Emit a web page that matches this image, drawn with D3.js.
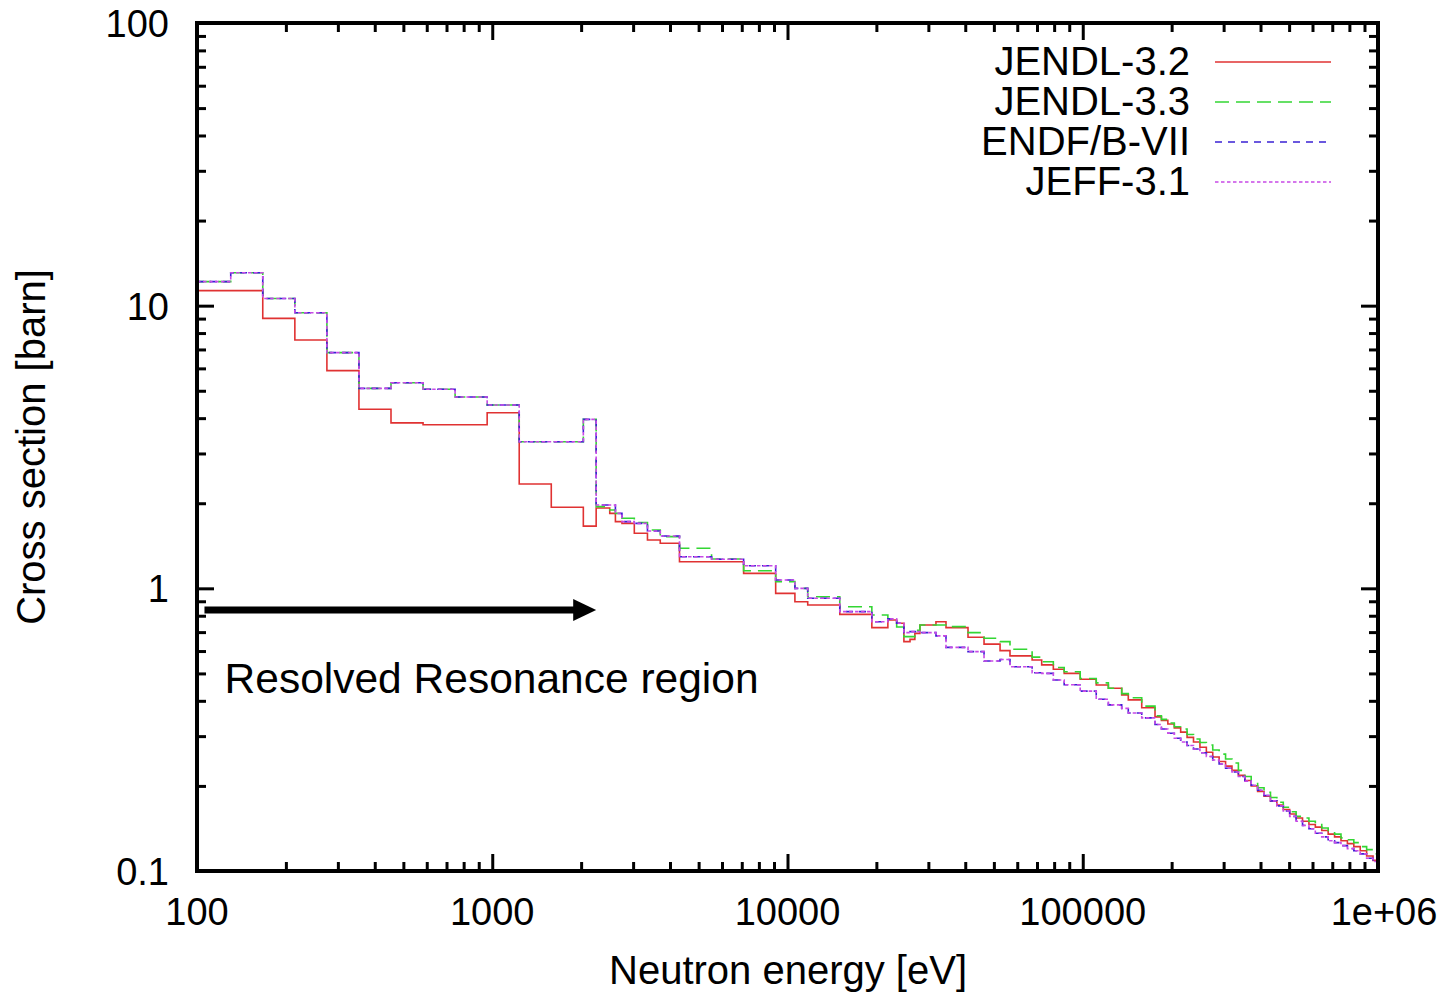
<!DOCTYPE html>
<html><head><meta charset="utf-8">
<script src="https://cdn.jsdelivr.net/npm/d3@7"></script>
<style>
html,body{margin:0;padding:0;background:#fff;}
svg{display:block;}
text{font-family:"Liberation Sans",Arial,Helvetica,sans-serif;fill:#000;}
</style></head><body>
<svg id="chart" width="1452" height="995"></svg>
<script>
// ---- data ----
const edges = [100, 130.1, 167.0, 214.5, 275.4, 353.6, 454.0, 583.0, 748.5, 961.1, 1234.1, 1584.6, 2034.7, 2248.7,
  2500, 2613, 2750, 3028, 3355, 3707, 4307, 5531, 7102, 9119, 10595, 11709, 15034, 19305,
  21875, 23430, 24788, 26000, 27000, 28088, 31828, 34420, 40868, 46309, 52475, 56700, 67379, 72600, 79500, 86517, 98037, 111090, 122100, 135500, 142640, 158400, 175700,
  184700, 194200, 204200, 214600, 225600, 237200, 249400, 262200, 275600, 289700, 304600, 320200, 336600, 353900, 372000, 391100, 411200, 432300, 454400, 477700,
  502200, 528000, 555100, 583500, 613400, 644900, 678000, 712700, 749300, 787700, 828100, 870600, 915200, 962100, 1000000];

const jendl32 = [11.3, 11.3, 9.02, 7.56, 5.89, 4.30, 3.85, 3.79, 3.79, 4.18, 2.34, 1.935, 1.66,
  1.923, 1.842, 1.722, 1.698, 1.566, 1.483, 1.443, 1.242, 1.242, 1.130, 0.960, 0.897, 0.873, 0.809,
  0.726, 0.773, 0.752, 0.648, 0.660, 0.693, 0.742, 0.762, 0.726, 0.671, 0.635, 0.602, 0.577, 0.558, 0.536, 0.517, 0.500, 0.477, 0.455, 0.443, 0.420, 0.403, 0.378,
  0.351, 0.341, 0.331, 0.321, 0.310, 0.297, 0.286, 0.274, 0.263, 0.253, 0.244, 0.235, 0.227, 0.218, 0.209, 0.200, 0.191, 0.184, 0.177, 0.171,
  0.165, 0.159, 0.154, 0.150, 0.146, 0.143, 0.139, 0.135, 0.132, 0.128, 0.125, 0.122, 0.118, 0.113, 0.109];

const jendl33 = [12.16, 13.08, 10.6, 9.44, 6.82, 5.10, 5.34, 5.06, 4.75, 4.45, 3.30, 3.30, 3.96,
  1.945, 1.893, 1.842, 1.770, 1.710, 1.608, 1.524, 1.386, 1.270, 1.154, 1.056, 1.000, 0.934, 0.861,
  0.805, 0.780, 0.730, 0.675, 0.675, 0.710, 0.742, 0.742, 0.732, 0.697, 0.666, 0.648, 0.609, 0.571, 0.550, 0.525, 0.507, 0.480, 0.463, 0.443, 0.424, 0.410, 0.383,
  0.354, 0.344, 0.334, 0.324, 0.318, 0.304, 0.293, 0.285, 0.279, 0.268, 0.259, 0.249, 0.241, 0.227, 0.216, 0.207, 0.197, 0.190, 0.182, 0.175,
  0.168, 0.162, 0.156, 0.154, 0.150, 0.147, 0.142, 0.138, 0.135, 0.131, 0.129, 0.126, 0.122, 0.119, 0.115];

const endfb7 = [12.16, 13.08, 10.6, 9.44, 6.82, 5.10, 5.34, 5.06, 4.75, 4.45, 3.30, 3.30, 3.96,
  1.972, 1.972, 1.842, 1.722, 1.698, 1.595, 1.532, 1.294, 1.267, 1.202, 1.070, 1.000, 0.922, 0.827,
  0.762, 0.780, 0.752, 0.697, 0.703, 0.703, 0.697, 0.679, 0.618, 0.597, 0.553, 0.560, 0.528, 0.503, 0.500, 0.474, 0.456, 0.433, 0.405, 0.387, 0.376, 0.362, 0.348,
  0.330, 0.318, 0.307, 0.295, 0.286, 0.278, 0.270, 0.262, 0.254, 0.247, 0.239, 0.231, 0.224, 0.216, 0.208, 0.201, 0.193, 0.185, 0.177, 0.170,
  0.163, 0.156, 0.150, 0.145, 0.141, 0.136, 0.132, 0.128, 0.126, 0.123, 0.120, 0.118, 0.115, 0.111, 0.108];

const jeff31 = [12.16, 13.08, 10.6, 9.44, 6.82, 5.10, 5.34, 5.06, 4.75, 4.45, 3.30, 3.30, 3.96,
  1.972, 1.972, 1.842, 1.722, 1.698, 1.595, 1.532, 1.294, 1.267, 1.202, 1.070, 1.000, 0.922, 0.827,
  0.762, 0.780, 0.752, 0.697, 0.703, 0.703, 0.697, 0.679, 0.618, 0.597, 0.553, 0.560, 0.528, 0.503, 0.500, 0.474, 0.456, 0.433, 0.405, 0.387, 0.376, 0.362, 0.348,
  0.330, 0.318, 0.307, 0.295, 0.286, 0.278, 0.270, 0.262, 0.254, 0.247, 0.239, 0.231, 0.224, 0.216, 0.208, 0.201, 0.193, 0.185, 0.177, 0.170,
  0.163, 0.156, 0.150, 0.145, 0.141, 0.136, 0.132, 0.128, 0.126, 0.123, 0.120, 0.118, 0.115, 0.111, 0.108];

const seriesNames = ["JENDL-3.2", "JENDL-3.3", "ENDF/B-VII", "JEFF-3.1"];
const xTickValues = [100, 1000, 10000, 100000, 1000000];
const xTickLabels = ["100", "1000", "10000", "100000", "1e+06"];
const yTickValues = [0.1, 1, 10, 100];
const yTickLabels = ["0.1", "1", "10", "100"];
const xTitle = "Neutron energy [eV]";
const yTitle = "Cross section [barn]";
const annotation = "Resolved Resonance region";
const arrowFrom = 106, arrowTo = 2248.7, arrowLevel = 0.838;
const annotX = 124, annotY = 0.426;

// ---- layout / style ----
const L = 197, R = 1378, T = 23, B = 871;
const styles = [
  {color: "#e03232", dash: null},
  {color: "#33d633", dash: "14,7"},
  {color: "#3a22d4", dash: "7,6"},
  {color: "#c84ae6", dash: "3.5,2.5"}
];
const seriesData = [jendl32, jendl33, endfb7, jeff31];

const svg = d3.select("#chart");
const x = d3.scaleLog().domain([100, 1e6]).range([L, R]);
const y = d3.scaleLog().domain([0.1, 100]).range([B, T]);

svg.append("defs").append("clipPath").attr("id", "clip")
  .append("rect").attr("x", L).attr("y", T).attr("width", R - L).attr("height", B - T);

// minor/major tick values
const xMinor = [], yMinor = [];
[100, 1000, 10000, 100000].forEach(d => { for (let m = 2; m <= 9; m++) xMinor.push(d * m); });
[0.1, 1, 10].forEach(d => { for (let m = 2; m <= 9; m++) yMinor.push(d * m); });

function addAxis(gen, tx, ty, vals, size) {
  const g = svg.append("g").attr("transform", `translate(${tx},${ty})`)
    .call(gen.tickValues(vals).tickSize(size).tickFormat(""));
  g.select(".domain").remove();
  g.selectAll(".tick line").attr("stroke", "#000").attr("stroke-width", 3);
}
const minorLen = -9, majorLen = -17;
addAxis(d3.axisBottom(x), 0, B, xMinor, minorLen);
addAxis(d3.axisBottom(x), 0, B, xTickValues, majorLen);
addAxis(d3.axisTop(x), 0, T, xMinor, minorLen);
addAxis(d3.axisTop(x), 0, T, xTickValues, majorLen);
addAxis(d3.axisLeft(y), L, 0, yMinor, minorLen);
addAxis(d3.axisLeft(y), L, 0, yTickValues, majorLen);
addAxis(d3.axisRight(y), R, 0, yMinor, minorLen);
addAxis(d3.axisRight(y), R, 0, yTickValues, majorLen);

// series
const line = d3.line().x(d => x(d[0])).y(d => y(d[1])).curve(d3.curveStepAfter);
const plot = svg.append("g").attr("clip-path", "url(#clip)");
seriesData.forEach((vals, si) => {
  const pts = vals.map((v, i) => [edges[i], v]);
  pts.push([edges[vals.length], vals[vals.length - 1]]);
  const p = plot.append("path").datum(pts)
    .attr("d", line).attr("fill", "none")
    .attr("stroke", styles[si].color).attr("stroke-width", 1.6);
  if (styles[si].dash) p.attr("stroke-dasharray", styles[si].dash);
});

// frame
svg.append("rect").attr("x", L).attr("y", T).attr("width", R - L).attr("height", B - T)
  .attr("fill", "none").attr("stroke", "#000").attr("stroke-width", 4);

// tick labels
svg.append("g").selectAll("text").data(xTickValues).join("text")
  .attr("x", (d, i) => x(d) + (i === xTickValues.length - 1 ? 6 : 0)).attr("y", 925).attr("text-anchor", "middle")
  .attr("font-size", 38).text((d, i) => xTickLabels[i]);
svg.append("g").selectAll("text").data(yTickValues).join("text")
  .attr("x", 169).attr("y", d => y(d) + 14).attr("text-anchor", "end")
  .attr("font-size", 38).text((d, i) => yTickLabels[i]);

// axis titles
svg.append("text").attr("x", 788).attr("y", 984).attr("text-anchor", "middle")
  .attr("font-size", 40).text(xTitle);
svg.append("text").attr("transform", `translate(45,${(T + B) / 2}) rotate(-90)`)
  .attr("text-anchor", "middle").attr("font-size", 40).text(yTitle);

// legend
const leg = svg.append("g");
seriesNames.forEach((n, i) => {
  leg.append("text").attr("x", 1190).attr("y", 75 + 40 * i).attr("text-anchor", "end")
    .attr("font-size", 40).text(n);
  const l = leg.append("line").attr("x1", 1215).attr("x2", 1331)
    .attr("y1", 62 + 40 * i).attr("y2", 62 + 40 * i)
    .attr("stroke", styles[i].color).attr("stroke-width", 1.6);
  if (styles[i].dash) l.attr("stroke-dasharray", styles[i].dash);
});

// annotation arrow
const ax0 = x(arrowFrom), ax1 = x(arrowTo), ay = y(arrowLevel);
svg.append("line").attr("x1", ax0).attr("x2", ax1 - 20).attr("y1", ay).attr("y2", ay)
  .attr("stroke", "#000").attr("stroke-width", 7);
svg.append("path").attr("d", `M${ax1},${ay} L${ax1 - 23},${ay - 11} L${ax1 - 23},${ay + 11} Z`)
  .attr("fill", "#000");
svg.append("text").attr("x", x(annotX)).attr("y", y(annotY)).attr("font-size", 42.5).text(annotation);
</script>
</body></html>
